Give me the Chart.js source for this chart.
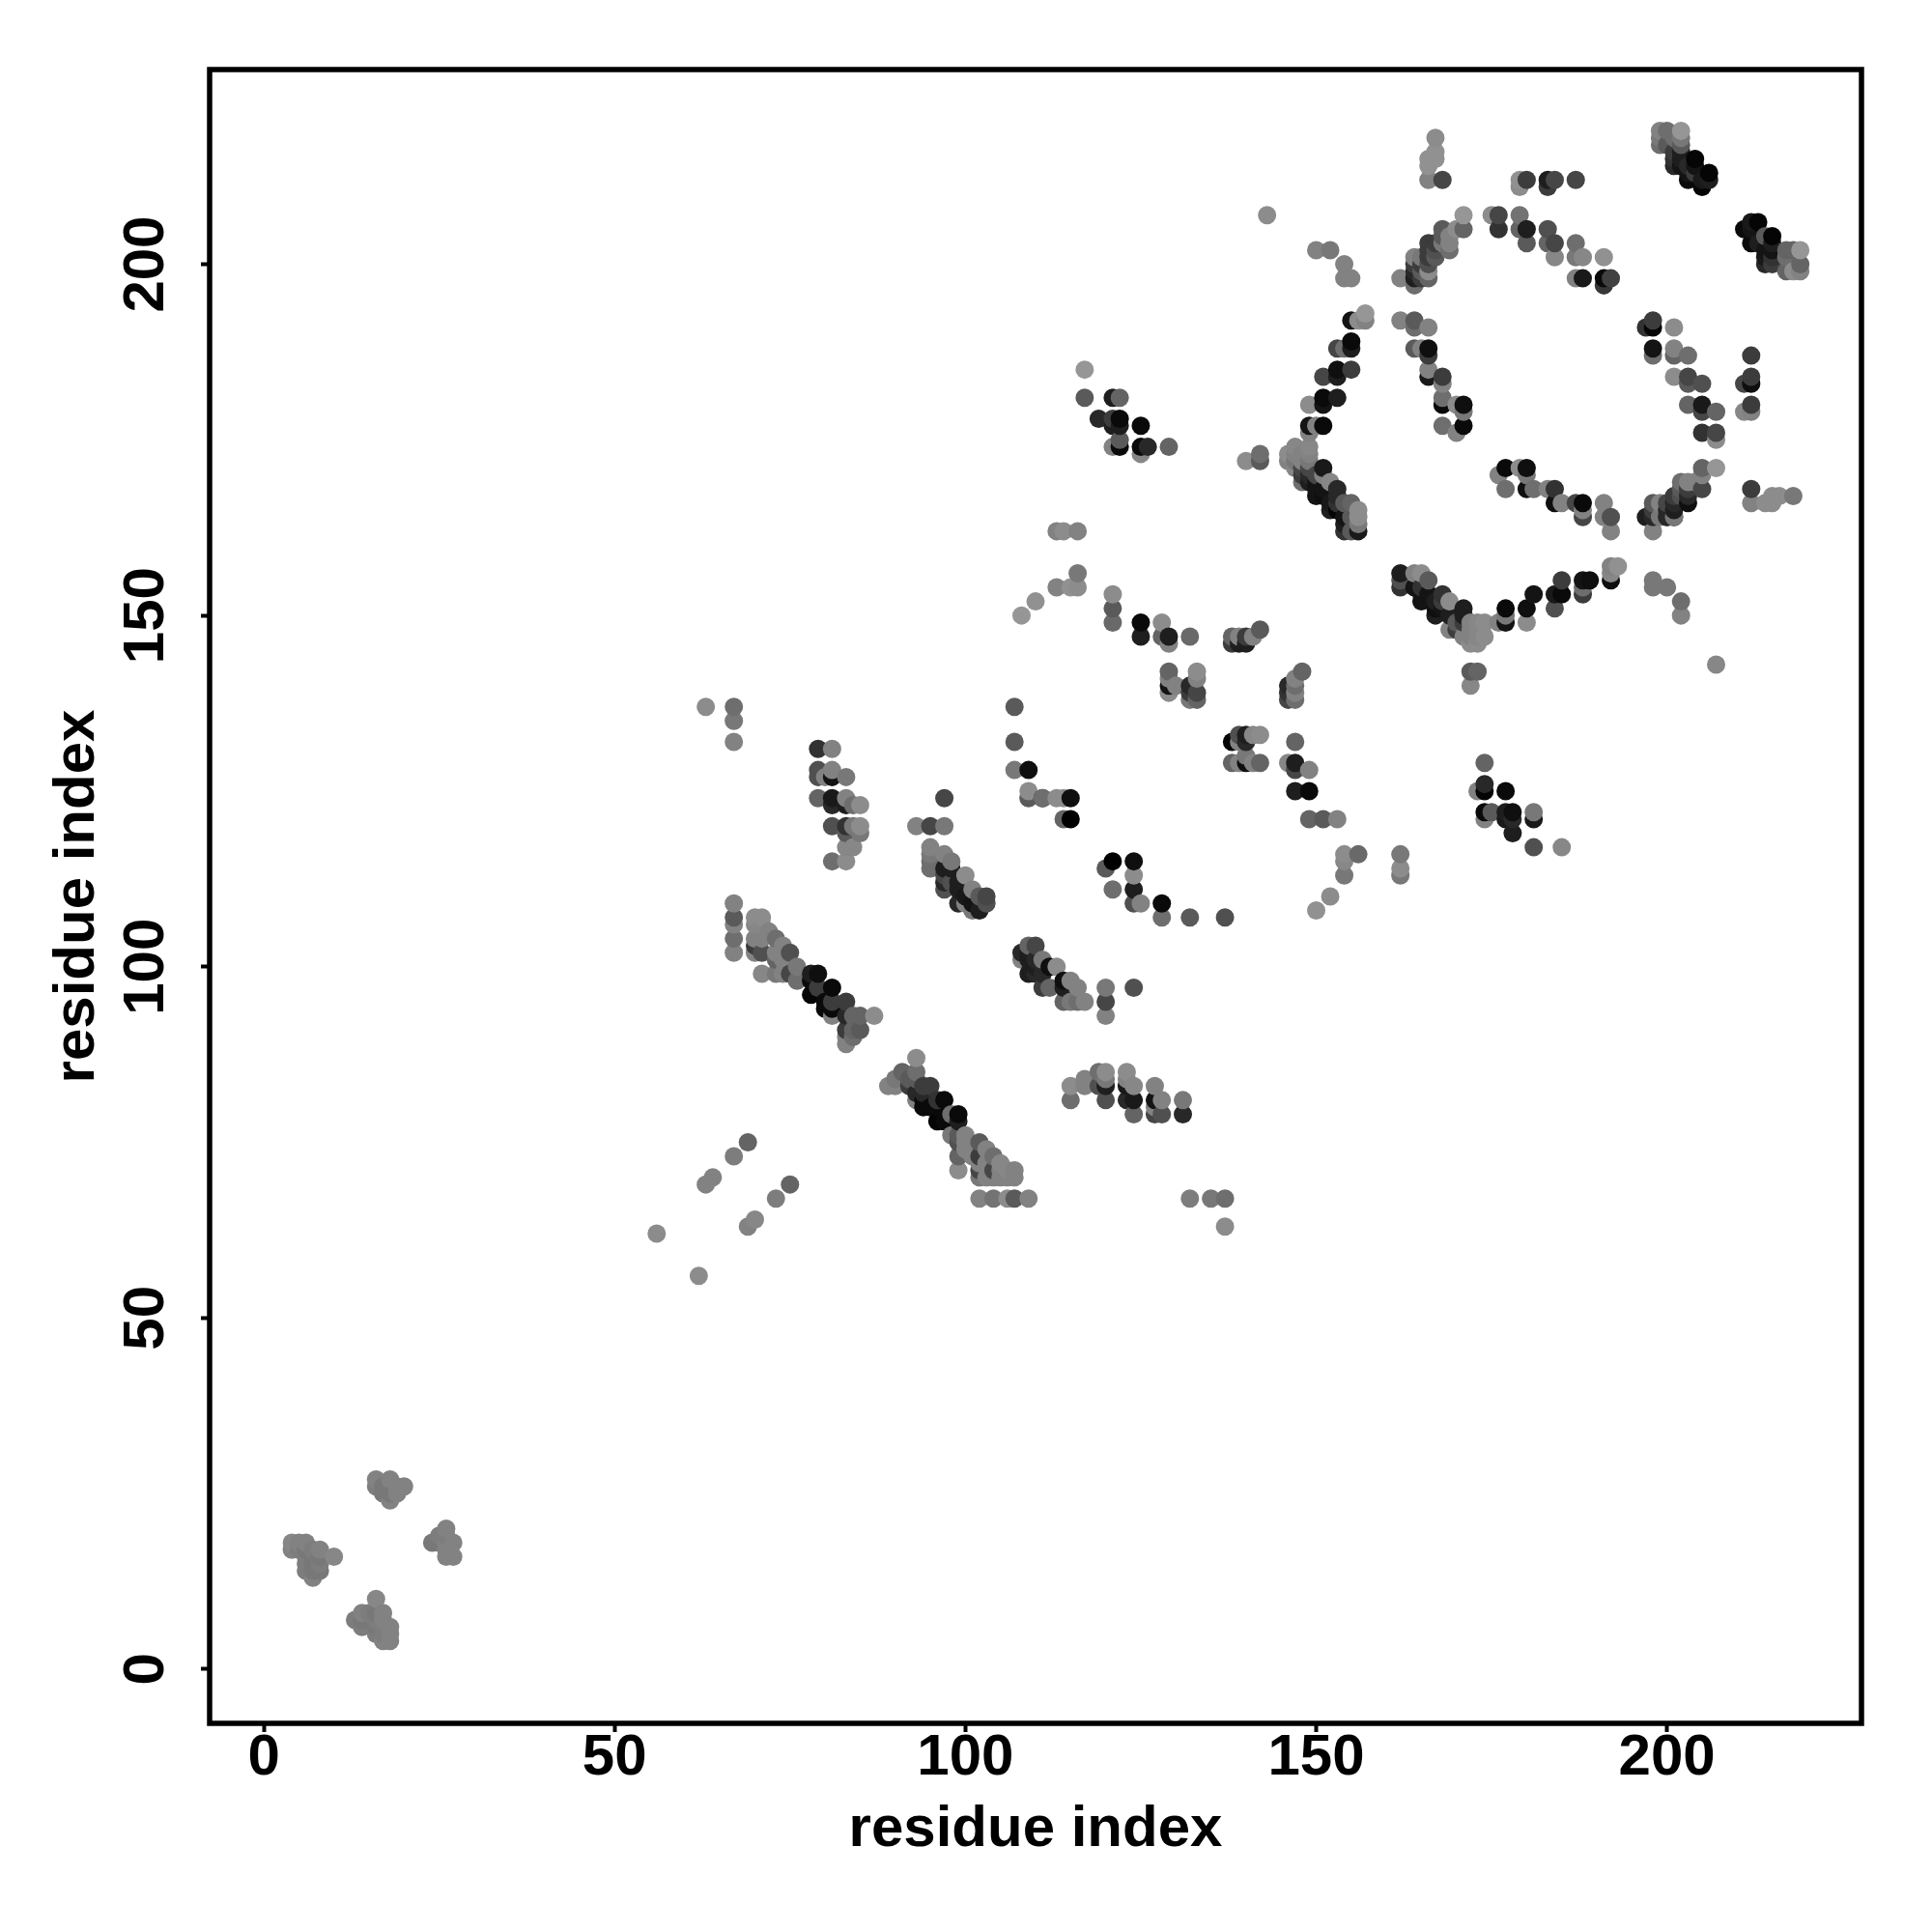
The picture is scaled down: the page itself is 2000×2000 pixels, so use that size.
<!DOCTYPE html>
<html>
<head>
<meta charset="utf-8">
<style>body { margin: 0; background: #fff; } canvas { display: block; }</style>
<script src="https://cdn.jsdelivr.net/npm/chart.js@4"></script>
</head>
<body>
<canvas id="contactmap" width="2000" height="2000"></canvas>
<script>
// one line per cluster, same line in each array belongs together
const residueI = [
  143,150,152,154,154,155,
  167,167,166,167,166,166,168,179,179,180,183,183,184,187,
  175,176,176,179,179,180,180,183,183,184,187,184,187,188,191,187,188,191,191,192,
  171,171,168,170,169,169,169,168,166,167,166,167,168,164,165,166,167,164,165,166,164,165,166,162,164,166,164,165,
  199,200,202,199,201,202,199,200,202,201,202,201,202,204,201,202,203,204,206,203,204,203,205,206,205,
  213,212,211,212,215,214,212,213,215,214,215,217,218,219,214,215,217,214,215,219,217,218,219,
  157,157,156,155,153,154,155,155,151,153,153,155,149,151,151,153,149,149,150,151,
  162,164,164,166,164,165,166,166,166,166,168,168,168,168,170,171,171,168,171,170,
  197,198,198,201,198,198,201,201,203,201,203,203,205,203,205,205,207,205,207,207,212,212,211,212,212,211,212,
  177,176,179,180,180,177,180,181,183,184,184,185,187,188,188,188,191,191,192,192,
  207,205,205,202,203,204,205,203,202,201,202,203,200,201,203,198,199,200,201,198,200,201,197,198,199,200,201,198,
  212,212,214,215,215,216,218,
  162,162,162,164,165,166,164,165,165,166,165,168,167,167,167,168,169,168,169,171,171,169,170,171,172,173,174,171,172,173,174,172,173,172,173,170,
  176,177,177,177,180,181,180,184,185,185,184,188,189,188,188,192,193,192,192,
  198,198,200,202,202,207,172,173,172,
  140,142,142,
  147,149,146,147,148,149,146,147,148,149,147,148,149,151,148,149,150,151,148,149,150,152,150,151,153,150,151,153,155,152,153,154,152,153,156,154,155,156,154,155,156,154,156,
  117,117,121,122,119,121,122,121,122,125,121,122,122,125,125,126,129,
  113,114,116,116,113,115,116,110,108,121,121,121,125,125,128,128,129,129,132,
  138,138,139,139,140,140,141,142,
  129,129,130,129,129,133,133,133,132,132,133,132,
  148,147,146,147,146,147,146,147,
  107,107,107,109,109,109,111,113,114,115,111,114,115,
  138,139,139,140,140,141,142,138,139,140,140,141,142,
  147,146,147,147,149,147,149,149,151,153,154,156,154,154,152,150,162,162,162,
  120,121,124,124,124,121,124,125,128,128,132,137,
  115,115,117,117,119,119,120,120,120,120,123,123,123,123,124,124,124,127,127,127,127,128,128,131,131,
  102,104,106,107,109,132,135,137,137,
  120,124,120,120,
  93,91,93,90,92,93,89,90,92,94,95,93,94,93,94,97,96,94,96,98,95,96,97,99,99,98,99,100,99,100,102,99,100,101,103,99,102,104,102,103,105,102,103,104,105,106,107,107,106,102,104,105,
  69,67,64,63,75,73,70,69,56,62,
  63,67,67,67,79,81,79,79,80,81,81,83,79,81,81,83,83,84,85,81,83,84,85,83,85,83,84,81,83,
  97,93,95,97,
  95,95,95,95,97,98,97,98,97,100,97,97,98,99,101,99,100,102,103,99,100,101,103,101,102,
  67,67,67,67,67,70,71,70,71,72,70,70,70,71,71,73,74,75,73,73,74,71,73,74,75,76,76,78,79,78,78,79,81,80,80,81,81,83,81,83,84,85,87,83,85,84,83,84,83,
  109,110,108,108,109,109,110,111,109,110,110,112,113,111,111,112,114,115,116,114,114,115,116,117,
  16,18,16,17,18,19,20,17,18,19,18,
  26,25,26,24,25,26,27,26,26,27,
  4,5,6,4,5,6,7,8,6,7,8,10,6,7,8,7,8,7,6,
  16,14,15,16,17,13,14,16,17,18,14,16,17,18,17,18,16,
  174,173,174,174,177,174,174,175,177,177,178,178,178,181,181,181,185
]
const residueJ = [
  207,202,202,200,198,198,
  218,216,215,215,214,212,212,212,211,212,212,211,212,212,
  207,207,205,207,205,205,203,205,203,203,203,201,201,201,201,198,198,198,197,198,
  207,205,205,205,204,203,202,204,203,203,202,202,203,201,201,201,201,200,200,200,199,199,199,198,198,198,197,198,
  219,219,219,218,218,218,217,217,217,216,216,215,215,215,214,214,214,214,213,213,213,212,212,212,211,
  206,206,205,205,204,204,203,203,203,202,202,202,202,202,201,201,201,200,200,200,199,199,199,
  193,192,192,192,188,188,189,188,184,185,184,185,180,181,180,181,177,176,177,177,
  192,192,191,191,188,188,188,187,185,184,184,183,181,180,180,180,179,177,177,176,
  191,192,191,191,188,187,188,187,187,184,184,183,183,180,180,179,179,176,176,175,187,184,183,183,180,179,179,
  171,170,171,171,170,168,168,168,168,168,166,166,166,166,165,164,166,164,164,162,
  171,171,170,169,169,169,168,168,168,167,167,167,166,166,166,166,166,165,165,165,164,164,164,164,164,164,164,162,
  168,166,166,166,167,167,167,
  156,155,154,156,156,155,154,154,153,153,152,153,152,151,150,152,152,151,150,151,150,148,149,149,149,149,149,147,147,147,147,148,148,146,146,148,
  149,151,149,150,151,153,149,153,155,153,151,155,155,154,153,157,157,156,155,
  155,154,154,152,150,143,142,142,140,
  172,173,172,
  174,174,173,173,173,173,172,172,172,172,171,171,171,171,170,170,170,170,169,169,169,169,168,168,168,167,167,167,166,166,166,166,165,165,165,164,164,164,162,162,162,163,163,
  185,181,181,181,178,178,178,177,177,177,174,175,174,174,173,174,174,
  162,162,162,156,154,154,154,152,150,153,151,149,149,147,149,147,147,146,147,
  147,146,147,146,147,146,147,148,
  142,140,140,141,139,138,142,141,140,139,139,138,
  142,141,140,140,139,139,138,138,
  137,132,128,128,125,124,124,124,124,124,124,121,121,
  132,133,132,133,132,133,133,129,129,130,129,129,129,
  132,129,129,128,128,125,125,121,121,121,116,116,115,113,110,108,116,114,113,
  114,115,115,113,111,111,109,109,109,107,107,107,
  83,81,84,83,85,83,85,84,83,81,85,84,83,81,83,81,79,83,81,80,79,81,79,81,79,
  67,67,67,67,67,67,67,67,63,
  97,97,95,93,
  87,85,85,84,84,84,83,83,83,83,83,82,82,81,81,81,81,80,80,79,80,78,78,79,78,76,76,76,75,75,75,73,74,73,74,71,73,73,72,72,72,70,70,70,70,70,70,71,71,71,71,71,
  75,73,70,69,69,67,64,63,62,56,
  137,137,135,132,131,131,128,127,127,128,127,127,124,124,123,124,123,123,123,120,120,120,120,119,119,117,117,115,115,
  124,120,120,120,
  117,116,115,114,116,115,114,114,113,113,112,111,112,112,111,111,110,110,110,109,109,109,109,108,108,
  109,107,106,104,102,107,107,106,106,105,104,103,102,102,104,104,103,102,102,101,101,99,99,99,99,100,98,99,99,98,96,97,97,95,94,95,94,95,93,93,93,93,93,91,91,91,89,90,90,
  103,103,102,101,102,101,101,101,99,99,100,100,100,99,97,97,98,98,97,97,95,95,95,95,
  27,27,26,26,26,26,26,25,25,25,24,
  20,19,19,18,18,18,18,17,16,16,
  18,18,18,17,17,17,17,17,16,16,16,16,14,14,14,13,15,15,15,
  10,8,8,8,8,7,7,7,7,6,6,6,5,5,4,4,5,
  129,125,126,125,125,122,121,122,122,121,122,121,119,122,121,117,117
]
// how dark each contact reads in the picture: 0 is black, about 150 the lightest
const contactLevel = [
  140,130,120,130,130,130,
  140,145,145,145,145,130,70,145,140,60,30,60,70,70,
  140,70,50,115,100,30,90,80,100,70,110,135,120,135,145,130,25,10,55,65,
  150,100,90,140,130,130,110,90,60,60,60,80,120,130,120,60,90,60,60,80,40,90,140,130,30,100,110,60,
  130,110,150,120,110,120,110,90,90,60,30,50,30,5,40,20,40,20,5,20,60,10,25,30,5,
  5,25,10,20,5,90,10,30,30,20,20,100,100,150,25,50,110,40,60,100,100,140,130,
  150,130,140,20,70,110,10,30,70,15,30,60,140,10,20,30,20,130,130,10,
  130,90,110,130,90,130,15,60,130,25,60,130,110,10,140,15,120,110,10,130,
  50,60,5,140,20,110,130,100,110,140,70,90,80,100,25,70,100,50,70,140,60,60,70,15,60,135,130,
  10,130,140,15,120,110,15,110,130,50,15,130,70,10,130,70,130,130,80,130,
  150,100,130,110,130,130,70,60,90,60,80,40,70,40,15,90,130,40,30,60,120,15,30,40,120,40,120,130,
  60,130,140,140,140,140,120,
  30,80,50,130,140,90,20,50,20,20,20,50,30,15,30,60,140,20,30,30,30,130,90,60,130,135,140,130,130,135,140,130,135,140,140,60,
  130,10,20,120,15,20,140,25,60,10,80,20,15,110,60,130,145,135,15,
  120,120,120,110,130,135,90,100,135,
  140,110,90,
  135,135,140,130,130,130,130,120,130,120,135,70,70,25,60,40,70,130,110,30,20,135,20,20,40,20,15,40,100,25,50,90,30,5,140,20,90,140,50,90,25,30,120,
  150,90,30,100,40,60,10,30,30,10,130,90,10,10,135,40,100,
  130,140,130,120,130,145,140,145,150,140,90,105,10,30,140,100,30,130,105,
  100,60,130,30,60,30,130,90,
  100,20,130,130,140,100,140,130,40,60,70,120,
  100,130,40,110,50,130,70,110,
  90,90,120,15,140,90,30,140,140,15,110,100,0,
  5,80,130,30,40,135,140,100,130,120,15,130,100,
  100,135,30,70,130,30,10,100,90,130,140,105,135,120,140,145,120,140,120,
  90,0,15,140,30,110,80,130,10,110,90,80,
  140,110,130,130,110,80,140,120,30,80,140,130,25,40,135,25,100,130,20,130,70,130,80,120,40,
  130,115,140,90,130,125,120,110,140,
  120,80,70,130,
  140,100,110,120,90,90,130,130,60,60,60,40,40,130,10,10,50,10,10,110,10,5,10,10,30,120,90,130,80,130,90,100,130,130,130,140,60,110,130,130,135,120,130,130,130,130,130,130,135,70,70,130,
  100,125,130,130,100,125,135,130,140,140,
  140,110,120,130,50,130,80,80,130,130,20,120,100,25,40,130,30,110,140,80,50,120,140,90,120,135,135,110,140,
  70,130,70,120,
  130,120,110,110,130,120,30,30,70,140,40,80,80,30,130,30,25,90,70,40,130,20,80,120,30,
  130,90,130,110,130,140,140,135,135,130,130,60,130,80,130,110,130,80,130,100,130,135,120,130,70,120,110,30,15,10,5,60,10,10,10,60,10,60,130,40,100,100,140,60,90,100,130,110,130,
  100,70,40,130,30,30,40,120,30,40,30,15,140,40,60,100,15,130,130,30,100,120,110,130,
  130,130,125,120,120,130,130,120,120,130,130,
  130,125,125,120,120,130,130,130,130,130,
  135,130,130,130,125,120,125,130,125,120,120,135,125,120,120,130,125,120,125,
  135,130,125,120,130,125,120,125,130,130,125,120,125,130,130,130,125,
  100,130,40,5,10,10,130,90,30,25,15,40,30,120,25,80,135
]

const tickValues = [0, 50, 100, 150, 200]
const axisLabel = 'residue index'

function makeChart() {
    const labelFont = { family: '"Liberation Sans"', size: 60, weight: 'bold' }

    // R draws by residue, later ones land on top
    const points = residueI.map((x, i) => ({ x: x, y: residueJ[i], level: contactLevel[i] }))
    points.sort((a, b) => a.x - b.x || a.y - b.y)

    const frame = {
        id: 'frame',
        afterDraw(chart) {
            const a = chart.chartArea
            const ctx = chart.ctx
            ctx.save()
            ctx.strokeStyle = '#000'
            ctx.lineWidth = 5.5
            ctx.strokeRect(a.left, a.top, a.right - a.left, a.bottom - a.top)
            ctx.restore()
        }
    }

    const sharedGrid = { drawOnChartArea: false, drawTicks: true, tickLength: 9, tickWidth: 4, tickColor: '#000' }

    const config = {
        type: 'scatter',
        data: {
            datasets: [{
                data: points,
                pointRadius: 9.5,
                pointBorderWidth: 0,
                pointBackgroundColor: (c) => {
                    const l = c.raw ? c.raw.level : 0
                    return 'rgb(' + l + ',' + l + ',' + l + ')'
                }
            }]
        },
        options: {
            responsive: false,
            animation: false,
            layout: { padding: { top: 72, right: 73, left: 0, bottom: 0 } },
            plugins: { legend: { display: false }, tooltip: { enabled: false } },
            scales: {
                x: {
                    type: 'linear',
                    min: -7.72,
                    max: 227.72,
                    afterFit: (s) => { s.height = 216 },
                    afterBuildTicks: (s) => { s.ticks = tickValues.map((v) => ({ value: v })) },
                    grid: sharedGrid,
                    border: { display: false },
                    ticks: { color: '#000', font: labelFont, padding: -9, maxRotation: 0, minRotation: 0 },
                    title: { display: true, text: axisLabel, color: '#000', font: labelFont, padding: { top: 0, bottom: 70 } }
                },
                y: {
                    type: 'linear',
                    min: -7.72,
                    max: 227.72,
                    afterFit: (s) => { s.width = 217 },
                    afterBuildTicks: (s) => { s.ticks = tickValues.map((v) => ({ value: v })) },
                    grid: sharedGrid,
                    border: { display: false },
                    ticks: { color: '#000', font: labelFont, padding: 5, minRotation: 90, maxRotation: 90, crossAlign: 'center' },
                    title: { display: true, text: axisLabel, color: '#000', font: labelFont, padding: { top: 44, bottom: 0 } }
                }
            }
        },
        plugins: [frame]
    }

    new Chart(document.getElementById('contactmap'), config)
}

makeChart()
</script>
</body>
</html>
